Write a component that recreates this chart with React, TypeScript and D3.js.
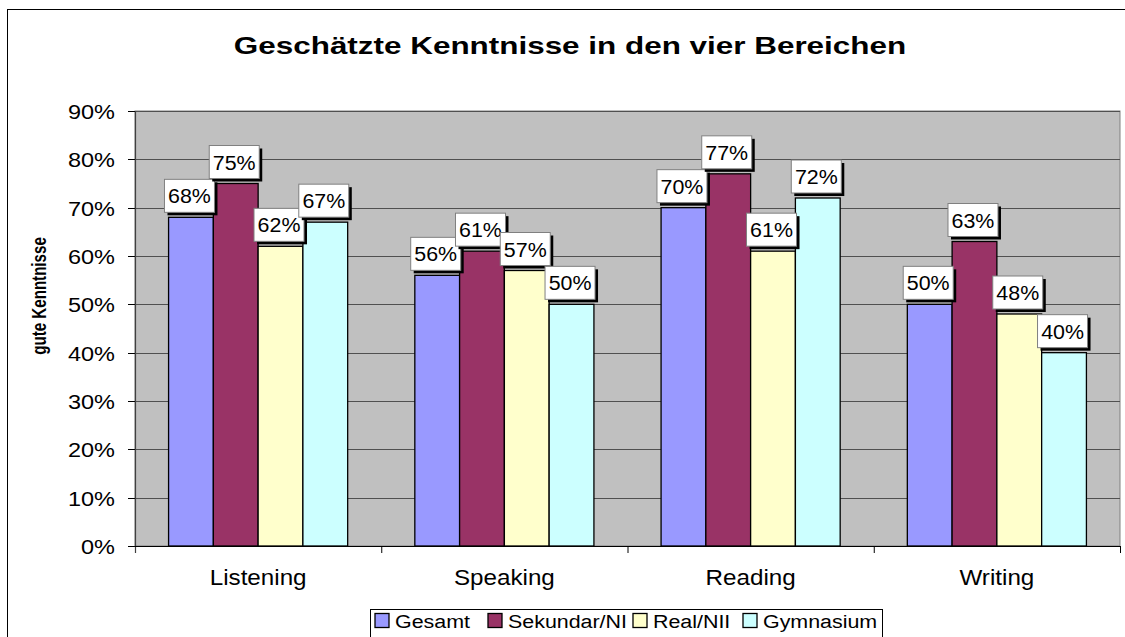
import React from "react";
import * as d3 from "d3";

const categories = ["Listening", "Speaking", "Reading", "Writing"];
const seriesNames = ["Gesamt", "Sekundar/NI", "Real/NII", "Gymnasium"];
const seriesColors = ["#9999FF", "#993366", "#FFFFCC", "#CCFFFF"];
const gesamt = [68, 56, 70, 50];
const sekundar = [75, 61, 77, 63];
const real = [62, 57, 61, 48];
const gymnasium = [67, 50, 72, 40];
const seriesValues = [gesamt, sekundar, real, gymnasium];
const yTicks = [0, 10, 20, 30, 40, 50, 60, 70, 80, 90];

const W = 1125;
const H = 637;
const plot = { left: 135, right: 1120, top: 111, bottom: 546 };
const FONT = "Liberation Sans, Arial, sans-serif";

function SText(props: { x: number; y: number; sx: number; size: number; anchor?: string; bold?: boolean; children: React.ReactNode }) {
  return (
    <text
      transform={`translate(${props.x},${props.y}) scale(${props.sx},1)`}
      textAnchor={props.anchor || "start"}
      fontSize={props.size}
      fontWeight={props.bold ? "bold" : "normal"}
    >
      {props.children}
    </text>
  );
}

export default function App() {
  const y = d3.scaleLinear().domain([0, 90]).range([plot.bottom, plot.top]);
  const x0 = d3.scaleBand().domain(categories).range([plot.left, plot.right]).paddingInner(0).paddingOuter(0);
  const catW = x0.bandwidth();
  const barW = catW / 5.5;
  const x1 = d3.scaleBand().domain(seriesNames).range([0, barW * 4]);

  const legendX = [375, 488, 633, 743];

  return (
    <svg width={W} height={H} style={{ position: "absolute", left: 0, top: 0 }} fontFamily={FONT}>
      <rect x={0} y={0} width={W} height={H} fill="#fff" />
      <rect x={7.5} y={9.5} width={W + 20} height={H + 20} fill="#fff" stroke="#000" strokeWidth={1} />
      <SText x={570} y={54} sx={1.31} size={24} anchor="middle" bold>
        Geschätzte Kenntnisse in den vier Bereichen
      </SText>
      {/* plot area */}
      <rect x={plot.left} y={plot.top} width={plot.right - plot.left} height={plot.bottom - plot.top} fill="#C0C0C0" stroke="#808080" strokeWidth={1} />
      {yTicks.map((t) => (
        <g key={t}>
          {t > 0 && (
            <line x1={plot.left} x2={plot.right} y1={Math.round(y(t)) + 0.5} y2={Math.round(y(t)) + 0.5} stroke="#505050" strokeWidth={1.2} />
          )}
          <line x1={plot.left - 7} x2={plot.left} y1={Math.round(y(t)) + 0.5} y2={Math.round(y(t)) + 0.5} stroke="#000" />
          <SText x={115} y={y(t) + 8} sx={1.12} size={21} anchor="end">
            {t}%
          </SText>
        </g>
      ))}
      {/* axes */}
      <line x1={plot.left + 0.5} x2={plot.left + 0.5} y1={plot.top} y2={plot.bottom + 7} stroke="#404040" strokeWidth={1.2} />
      <line x1={plot.left} x2={plot.right} y1={plot.bottom + 0.5} y2={plot.bottom + 0.5} stroke="#000" strokeWidth={1.2} />
      {categories.map((c) => (
        <line key={"ct" + c} x1={x0(c)! + catW + 0.5} x2={x0(c)! + catW + 0.5} y1={plot.bottom} y2={plot.bottom + 7} stroke="#000" />
      ))}
      {/* bars */}
      {categories.map((c, ci) =>
        seriesNames.map((s, si) => {
          const v = seriesValues[si][ci];
          const bx = x0(c)! + barW * 0.75 + x1(s)!;
          return (
            <rect key={c + s} x={bx} y={y(v)} width={barW} height={plot.bottom - y(v)} fill={seriesColors[si]} stroke="#000" strokeWidth={1.3} />
          );
        })
      )}
      {/* labels */}
      {categories.map((c, ci) =>
        seriesNames.map((s, si) => {
          const v = seriesValues[si][ci];
          const cx = x0(c)! + barW * 0.75 + x1(s)! + barW / 2 - 1.5;
          const bw = 50;
          const bh = 33;
          const by = y(v) - 5 - bh;
          return (
            <g key={"l" + c + s}>
              <rect x={cx - bw / 2 + 3} y={by + 3} width={bw} height={bh} fill="#000" />
              <rect x={cx - bw / 2} y={by} width={bw} height={bh} fill="#fff" stroke="#808080" strokeWidth={1} />
              <SText x={cx} y={by + 24} sx={1.07} size={20} anchor="middle">
                {v}%
              </SText>
            </g>
          );
        })
      )}
      {categories.map((c) => (
        <SText key={"cl" + c} x={x0(c)! + catW / 2} y={585} sx={1.1} size={22} anchor="middle">
          {c}
        </SText>
      ))}
      <text transform="translate(46,296) rotate(-90) scale(0.84,1.1)" textAnchor="middle" fontSize={18} fontWeight="bold">
        gute Kenntnisse
      </text>
      {/* legend */}
      <rect x={370.5} y={609.5} width={512} height={40} fill="#fff" stroke="#000" strokeWidth={1} />
      {seriesNames.map((s, i) => (
        <g key={"lg" + s}>
          <rect x={legendX[i]} y={613.5} width={14} height={14} fill={seriesColors[i]} stroke="#000" strokeWidth={1.3} />
          <SText x={legendX[i] + 20} y={628} sx={1.19} size={18}>
            {s}
          </SText>
        </g>
      ))}
    </svg>
  );
}
